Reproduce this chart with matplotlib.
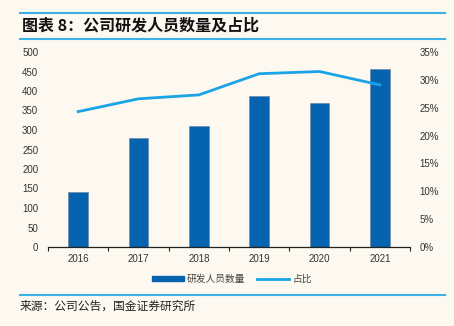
import matplotlib
matplotlib.use("Agg")
import matplotlib.pyplot as plt
from matplotlib.lines import Line2D
from matplotlib.patches import Patch
import numpy as np

plt.rcParams['font.family'] = ['Noto Sans CJK SC', 'DejaVu Sans']

years = ['2016', '2017', '2018', '2019', '2020', '2021']
staff = [140, 280, 309, 386, 369, 456]
ratio = [24.3, 26.6, 27.3, 31.1, 31.5, 29.1]
left_ticks = [0, 50, 100, 150, 200, 250, 300, 350, 400, 450, 500]
right_ticks = [0, 5, 10, 15, 20, 25, 30, 35]

BG = '#FDF9F0'
BAR = '#0563B0'
LINE = '#1AA3E6'
TXT = '#333333'
NUMFONT = ['Liberation Sans', 'DejaVu Sans']

fig = plt.figure(figsize=(4.54, 3.26), dpi=100, facecolor=BG)
W, H = 454, 326
ax = fig.add_axes([48 / W, 1 - 247 / H, (410 - 48) / W, (247 - 52) / H])
ax.set_facecolor(BG)
x = np.arange(len(years))
ax.bar(x, staff, width=0.33, color=BAR, edgecolor='#6d8aa6', linewidth=0.5, zorder=2)
ax.set_xlim(-0.5, len(years) - 0.5)
ax.set_ylim(0, 500)
ax.set_yticks(left_ticks)
ax.set_yticklabels([str(v) for v in left_ticks], family=NUMFONT)
ax.set_xticks(x)
ax.set_xticklabels(years, family=NUMFONT)
ax.set_xticks(np.arange(-0.5, len(years), 1.0), minor=True)
ax.tick_params(axis='x', which='major', length=0, labelsize=7, labelcolor=TXT, pad=5)
ax.tick_params(axis='x', which='minor', length=3, width=0.8, color='#222222', direction='out')
ax.tick_params(axis='y', length=0, labelsize=7, labelcolor=TXT, pad=7)
for s in ['top', 'left', 'right']:
    ax.spines[s].set_visible(False)
ax.spines['bottom'].set_color('#222222')
ax.spines['bottom'].set_linewidth(0.9)

ax2 = ax.twinx()
ax2.plot(x, ratio, color=LINE, linewidth=2.0, zorder=3)
ax2.set_ylim(0, 35)
ax2.set_yticks(right_ticks)
ax2.set_yticklabels([f'{v}%' for v in right_ticks], family=NUMFONT)
ax2.tick_params(axis='y', length=0, labelsize=7, labelcolor=TXT, pad=7)
for s in ['top', 'left', 'right', 'bottom']:
    ax2.spines[s].set_visible(False)

# legend
handles = [Patch(facecolor=BAR, edgecolor=BAR), Line2D([0], [0], color=LINE, lw=2)]
leg = fig.legend(handles, ['研发人员数量', '占比'], loc='center', bbox_to_anchor=(232 / W, 1 - 279 / H),
                 ncol=2, frameon=False, fontsize=7, handlelength=3.3, handleheight=0.5,
                 columnspacing=1.2, handletextpad=0.3)
for t in leg.get_texts():
    t.set_color('#444444')

# title rules
for yy in [13, 39, 295]:
    fig.add_artist(Line2D([20 / W, 445 / W], [1 - yy / H, 1 - yy / H], color='#3DB0E8', lw=1.5))
fig.text(22 / W, 1 - 26 / H, '图表 8：公司研发人员数量及占比', fontsize=11.5, fontweight='bold',
         color='#111111', va='center', ha='left', style='italic')
fig.text(20 / W, 1 - 306 / H, '来源：公司公告，国金证券研究所', fontsize=8.5, color='#222222',
         va='center', ha='left')

fig.savefig('out.png', dpi=100, facecolor=BG)
